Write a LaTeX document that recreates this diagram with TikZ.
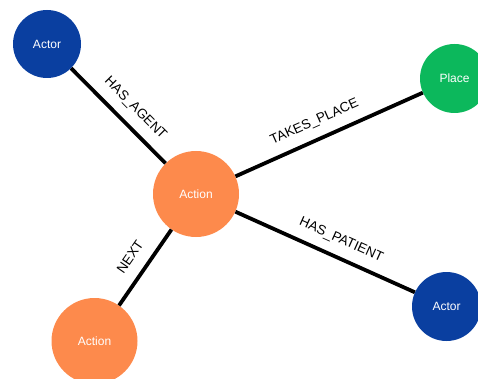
\documentclass[tikz,border=0pt]{standalone}
\usepackage{fontspec}
\setmainfont{Liberation Sans}
\definecolor{actorblue}{RGB}{10,63,160}
\definecolor{actionorange}{RGB}{253,138,76}
\definecolor{placegreen}{RGB}{12,184,92}

\begin{document}
\begin{tikzpicture}[x=1pt,y=-1pt,
        ent/.style={circle,inner sep=0pt,text=white,font=\fontsize{12}{14}\selectfont},
        rel/.style={line width=3.8pt},
        lbl/.style={sloped,above,inner xsep=0pt,inner ysep=12pt,text height=9.7pt,text depth=0pt,
                    font=\fontsize{13.5}{16}\selectfont}]
                \useasboundingbox (0,0) rectangle (478,379);
                \clip (0,0) rectangle (478,379);

                \node[ent,fill=actorblue,minimum size=68pt] (actor1) at (47,44) {Actor};
                \node[ent,fill=actionorange,minimum size=86pt] (action1) at (196,194) {Action};
                \node[ent,fill=placegreen,minimum size=69pt] (place) at (454.5,78.5) {Place};
                \node[ent,fill=actorblue,minimum size=69pt] (actor2) at (446.5,306.5) {Actor};
                \node[ent,fill=actionorange,minimum size=86pt] (action2) at (94.5,341) {Action};

                \draw[rel] (actor1) -- node[lbl,pos=0.55] {HAS\_AGENT} (action1);
                \draw[rel] (action1) -- node[lbl,pos=0.46] {TAKES\_PLACE} (place);
                \draw[rel] (action1) -- node[lbl,pos=0.55] {HAS\_PATIENT} (actor2);
                \draw[rel] (action1) -- node[lbl,pos=0.5] {NEXT} (action2);
            \end{tikzpicture}
\end{document}
